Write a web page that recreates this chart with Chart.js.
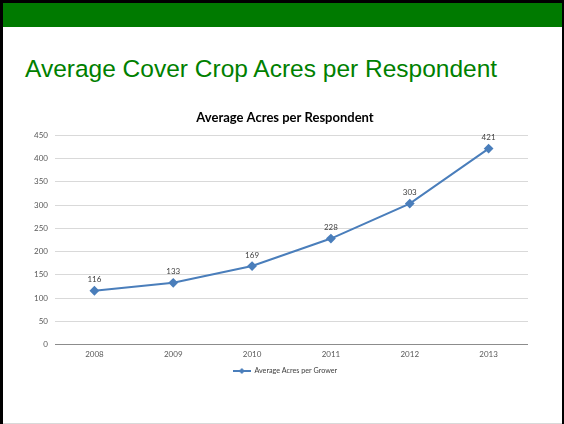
<!DOCTYPE html>
<html>
<head>
<meta charset="utf-8">
<script src="https://cdn.jsdelivr.net/npm/chart.js@4.4.1/dist/chart.umd.min.js"></script>
<style>
  html, body { margin: 0; padding: 0; background: #fff; }
  #slide { position: relative; width: 564px; height: 424px; overflow: hidden; background: #fff; }
  #frameTop { position: absolute; left: 0; top: 0; width: 564px; height: 3px; background: #000; }
  #frameLeft { position: absolute; left: 0; top: 0; width: 3px; height: 424px; background: #000; }
  #frameRight { position: absolute; left: 562px; top: 0; width: 2px; height: 424px; background: #000; }
  #frameBottom { position: absolute; left: 3px; top: 423px; width: 559px; height: 1px; background: #d9d9d9; }
  #band { position: absolute; left: 3px; top: 3px; width: 559px; height: 24px; background: #007a00; }
  #heading {
    position: absolute; left: 25px; top: 52px; margin: 0;
    font-family: "Liberation Sans", Arial, sans-serif; font-weight: normal;
    font-size: 24.5px; line-height: 34px; color: #008000; white-space: nowrap;
  }
  #chartBox { position: absolute; left: 0; top: 100px; width: 564px; height: 290px; }
</style>
</head>
<body>
<div id="slide">
  <div id="band"></div>
  <div id="frameTop"></div>
  <div id="frameLeft"></div>
  <div id="frameRight"></div>
  <div id="frameBottom"></div>
  <h1 id="heading">Average Cover Crop Acres per Respondent</h1>
  <div id="chartBox"><canvas id="chart"></canvas></div>
</div>
<script>
const years = ["2008", "2009", "2010", "2011", "2012", "2013"];
const avgAcres = [116, 133, 169, 228, 303, 421];
const yTicks = [0, 50, 100, 150, 200, 250, 300, 350, 400, 450];

const lineColor = "#4a7ebb";
const textColor = "#595959";
const font = "Lato, 'Open Sans', sans-serif";

// little line + diamond used as the legend symbol
const legendSymbol = document.createElement("canvas");
legendSymbol.width = 18;
legendSymbol.height = 8;
(function () {
  const c = legendSymbol.getContext("2d");
  c.strokeStyle = lineColor;
  c.lineWidth = 2;
  c.beginPath();
  c.moveTo(0, 4);
  c.lineTo(18, 4);
  c.stroke();
  c.fillStyle = lineColor;
  c.beginPath();
  c.moveTo(9, 1);
  c.lineTo(12, 4);
  c.lineTo(9, 7);
  c.lineTo(6, 4);
  c.closePath();
  c.fill();
})();

// value labels above every point
const pointLabels = {
  id: "pointLabels",
  afterDatasetsDraw(chart) {
    const ctx = chart.ctx;
    ctx.save();
    ctx.font = "8px " + font;
    ctx.fillStyle = "#404040";
    ctx.textAlign = "center";
    ctx.textBaseline = "middle";
    chart.data.datasets.forEach((ds, i) => {
      chart.getDatasetMeta(i).data.forEach((pt, j) => {
        ctx.fillText(String(ds.data[j]), pt.x, pt.y - 11);
      });
    });
    ctx.restore();
  },
};

// the y axis box is kept narrow so title/legend centre like the slide;
// widen its label clip area back to the canvas edge
const yLabelRoom = {
  id: "yLabelRoom",
  afterLayout(chart) {
    chart.scales.y.left = 0;
  },
};

new Chart(document.getElementById("chart"), {
  type: "line",
  data: {
    labels: years,
    datasets: [
      {
        label: "Average Acres per Grower",
        data: avgAcres,
        borderColor: lineColor,
        backgroundColor: lineColor,
        borderWidth: 2,
        tension: 0,
        pointStyle: "rectRot",
        pointRadius: 3.5,
        pointHoverRadius: 3.5,
        fill: false,
      },
    ],
  },
  options: {
    responsive: true,
    maintainAspectRatio: false,
    animation: false,
    layout: { padding: { left: 42, right: 36, top: 0, bottom: 5.4 } },
    plugins: {
      title: {
        display: true,
        text: "Average Acres per Respondent",
        color: "#000",
        font: { family: font, size: 13, weight: "bold" },
        padding: { top: 10.5, bottom: 9 },
      },
      legend: {
        position: "bottom",
        labels: {
          usePointStyle: true,
          pointStyleWidth: 18,
          padding: 3,
          color: "#404040",
          font: { family: font, size: 7.2 },
          generateLabels(chart) {
            const items = Chart.defaults.plugins.legend.labels.generateLabels(chart);
            items.forEach((it) => { it.pointStyle = legendSymbol; });
            return items;
          },
        },
      },
      tooltip: { enabled: false },
    },
    scales: {
      x: {
        offset: true,
        grid: { display: false, drawTicks: false },
        border: { display: false },
        ticks: { color: textColor, font: { family: font, size: 8 }, padding: 5, maxRotation: 0 },
      },
      y: {
        min: 0,
        max: 450,
        afterBuildTicks(scale) {
          scale.ticks = yTicks.map((v) => ({ value: v }));
        },
        afterFit(scale) {
          scale.width = 13;
        },
        grid: {
          drawTicks: false,
          lineWidth: 1,
          color: (c) => (c.tick && c.tick.value === 0 ? "#8c8c8c" : "#d9d9d9"),
        },
        border: { display: false },
        ticks: { color: textColor, font: { family: font, size: 8 }, padding: 7 },
      },
    },
  },
  plugins: [pointLabels, yLabelRoom],
});
</script>
</body>
</html>
